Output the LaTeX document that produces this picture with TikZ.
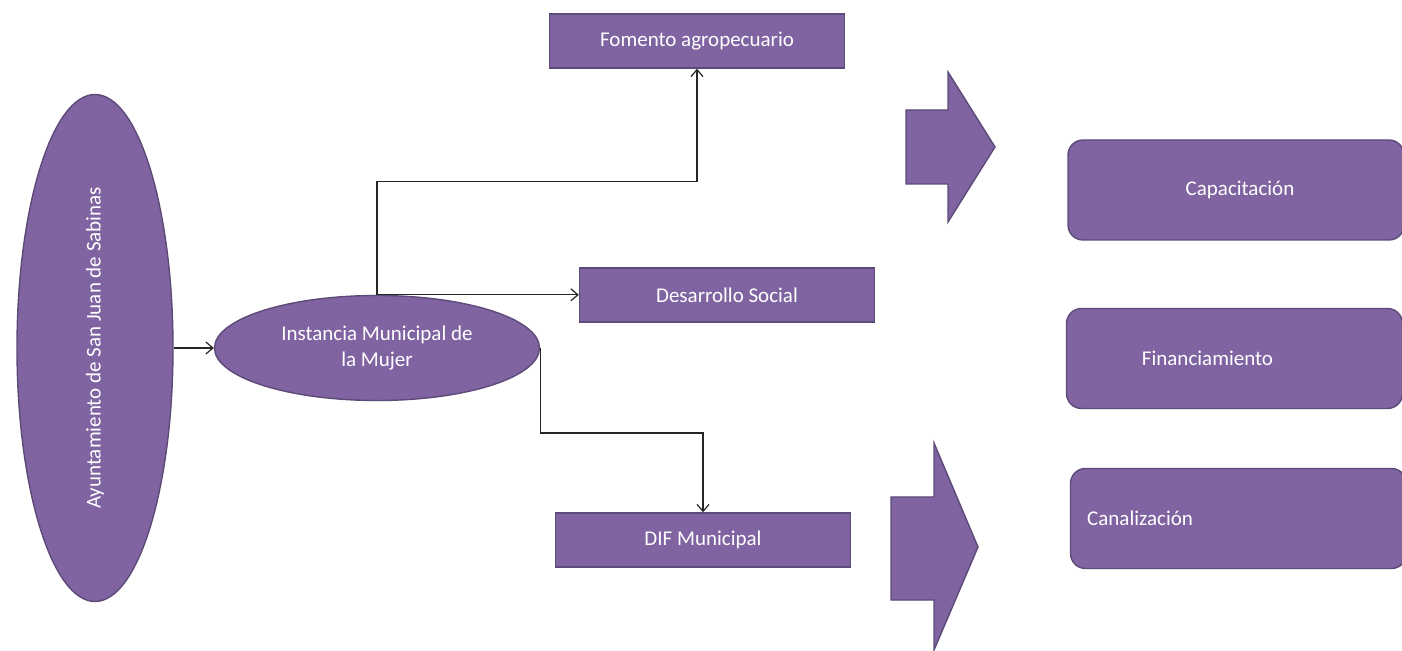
\documentclass[tikz,border=0pt]{standalone}
\usepackage{fontspec}
\setmainfont{Carlito}
\usetikzlibrary{calc,arrows.meta,shapes.geometric}
\definecolor{boxfill}{HTML}{8064A2}
\definecolor{boxline}{HTML}{5C4A78}

\begin{document}
\begin{tikzpicture}[
    x=0.5pt, y=-0.5pt,
    font=\fontsize{10.5}{13}\selectfont,
    arrowstyle/.style={draw, black!85, line width=0.6pt,
        -{Straight Barb[length=3.5pt,width=6pt]}},
    entity/.style={ellipse, draw=boxline, fill=boxfill, line width=0.7pt,
        text=white, inner sep=0pt, align=center},
    office/.style={rectangle, draw=boxline, fill=boxfill, line width=0.7pt,
        text=white, minimum width=147.5pt, minimum height=27pt, inner sep=0pt},
    goal/.style={rectangle, draw=boxline, fill=boxfill, line width=0.7pt,
        rounded corners=7.5pt, minimum width=168pt, minimum height=50pt,
        inner sep=0pt},
    goaltext/.style={text=white, inner sep=0pt},
    blockarrow/.style={draw=boxline, fill=boxfill, line width=0.7pt}
]
\useasboundingbox (0,0) rectangle (1402,651);

% ayuntamiento e instancia
\node (Ayuntamiento) [entity, minimum width=78pt, minimum height=253.5pt]
    at (95,348) {\rotatebox{90}{Ayuntamiento de San Juan de Sabinas}};
\node (Instancia) [entity, minimum width=162.5pt, minimum height=52.5pt]
    at (377,348) {Instancia Municipal de\\la Mujer};

% dependencias
\node (Fomento) [office] at (697,41) {Fomento agropecuario};
\node (Desarrollo) [office] at (727,295) {Desarrollo Social};
\node (DIF) [office] at (703,540) {DIF Municipal};

\draw[arrowstyle] (Ayuntamiento) -- (Instancia);
\draw[arrowstyle] (Instancia.north) -- ++(0,-113) -| (Fomento.south);
\draw[arrowstyle] (Instancia.north) -- (Instancia.north -| Desarrollo.west);
\draw[arrowstyle] (Instancia.east) -- ++(0,85) -| (DIF.north);

% flechas de bloque
\draw[blockarrow] (906,110) -- (948,110) -- (948,72) -- (995,147)
    -- (948,222) -- (948,184) -- (906,184) -- cycle;
\draw[blockarrow] (891,497) -- (934,497) -- (934,443) -- (978,547)
    -- (934,650) -- (934,600) -- (891,600) -- cycle;

% servicios
\node (Capacitacion) [goal] at (1236,190) {};
\node (Financiamiento) [goal] at (1234.5,358.5) {};
\node (Canalizacion) [goal] at (1238.5,518.5) {};
\node (CapacitacionText) [goaltext] at ($(Capacitacion.center)+(4,0)$) {Capacitación};
\node (FinanciamientoText) [goaltext] at ($(Financiamiento.center)+(-27,0)$) {Financiamiento};
\node (CanalizacionText) [goaltext, anchor=west] at ($(Canalizacion.west)+(17,0)$) {Canalización};
\end{tikzpicture}
\end{document}
